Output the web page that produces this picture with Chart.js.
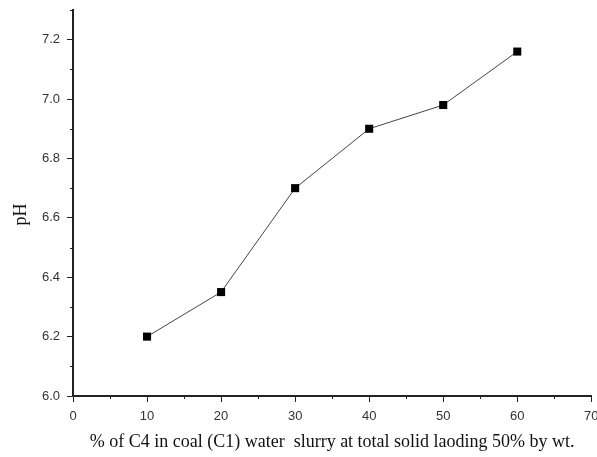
<!DOCTYPE html>
<html>
<head>
<meta charset="utf-8">
<script src="https://cdn.jsdelivr.net/npm/chart.js@4/dist/chart.umd.min.js"></script>
<style>
  html, body { margin: 0; padding: 0; background: #fff; }
  #wrap { width: 597px; height: 457px; position: relative; }
</style>
</head>
<body>
<div id="wrap"><canvas id="chart"></canvas></div>
<script>
// ── Data ──────────────────────────────────────────────────────────────────────
const c4Percent = [10, 20, 30, 40, 50, 60];
const phValues  = [6.20, 6.35, 6.70, 6.90, 6.98, 7.16];

const xMajorTicks = [0, 10, 20, 30, 40, 50, 60, 70];
const xMinorTicks = [5, 15, 25, 35, 45, 55, 65];
const yMajorTicks = [6.0, 6.2, 6.4, 6.6, 6.8, 7.0, 7.2];
const yMinorTicks = [6.1, 6.3, 6.5, 6.7, 6.9, 7.1, 7.3];

const xTitle = '% of C4 in coal (C1) water  slurry at total solid laoding 50% by wt.';
const yTitle = 'pH';

// ── Style ─────────────────────────────────────────────────────────────────────
const AXIS_COLOR  = '#222';
const LABEL_COLOR = '#333';
const MAJOR_LEN   = 6;
const MINOR_LEN   = 3;
const tickFont  = { family: '"Liberation Sans", Arial, sans-serif', size: 13 };
const titleFont = { family: '"Liberation Serif", "Times New Roman", serif', size: 18 };

// short outward ticks between the labelled ones, plus the y title
// (sits a bit below the middle of the axis, so drawn by hand)
const axisExtras = {
  id: 'axisExtras',
  afterDraw(chart) {
    const { ctx, chartArea, scales: { x, y } } = chart;
    ctx.save();
    ctx.strokeStyle = AXIS_COLOR;
    ctx.lineWidth = 1;
    ctx.beginPath();
    xMinorTicks.forEach(v => {
      const px = Math.round(x.getPixelForValue(v)) + 0.5;
      ctx.moveTo(px, chartArea.bottom);
      ctx.lineTo(px, chartArea.bottom + MINOR_LEN);
    });
    yMinorTicks.forEach(v => {
      const py = Math.round(y.getPixelForValue(v)) + 0.5;
      ctx.moveTo(chartArea.left, py);
      ctx.lineTo(chartArea.left - MINOR_LEN, py);
    });
    ctx.stroke();

    const midY = chartArea.top + (chartArea.bottom - chartArea.top) * 0.53;
    ctx.translate(21, midY);
    ctx.rotate(-Math.PI / 2);
    ctx.font = `${titleFont.size}px ${titleFont.family}`;
    ctx.fillStyle = '#111';
    ctx.textAlign = 'center';
    ctx.textBaseline = 'middle';
    ctx.fillText(yTitle, 0, 0);
    ctx.restore();
  }
};

const fixedTicks = list => scale => { scale.ticks = list.map(v => ({ value: v })); };

new Chart(document.getElementById('chart'), {
  type: 'line',
  data: {
    labels: c4Percent,
    datasets: [{
      data: c4Percent.map((x, i) => ({ x, y: phValues[i] })),
      borderColor: '#444',
      borderWidth: 1,
      pointStyle: 'rect',
      pointRadius: 5.7,
      pointHoverRadius: 5.7,
      pointBackgroundColor: '#000',
      pointBorderColor: '#000',
      pointBorderWidth: 0,
      tension: 0,
      clip: false,
    }]
  },
  options: {
    responsive: true,
    maintainAspectRatio: false,
    animation: false,
    events: [],
    layout: { padding: { left: 0, top: 10, right: 5, bottom: 0 } },
    plugins: { legend: { display: false }, tooltip: { enabled: false } },
    scales: {
      x: {
        type: 'linear',
        min: 0, max: 70,
        afterBuildTicks: fixedTicks(xMajorTicks),
        afterFit(scale) { scale.height = 61; scale.paddingLeft = 0; scale.paddingRight = 0; },
        grid: { drawOnChartArea: false, drawTicks: true, tickLength: MAJOR_LEN, tickColor: AXIS_COLOR, tickWidth: 1 },
        border: { display: true, color: AXIS_COLOR, width: 2 },
        ticks: { font: tickFont, color: LABEL_COLOR, padding: 7, maxRotation: 0, autoSkip: false,
                 callback: v => String(v) },
        title: { display: true, text: xTitle, font: titleFont, color: '#111', padding: { top: 0, bottom: 4 } },
      },
      y: {
        type: 'linear',
        min: 6.0, max: 7.3,
        afterBuildTicks: fixedTicks(yMajorTicks),
        afterFit(scale) { scale.width = 73; scale.paddingTop = 0; scale.paddingBottom = 0; },
        grid: { drawOnChartArea: false, drawTicks: true, tickLength: MAJOR_LEN, tickColor: AXIS_COLOR, tickWidth: 1 },
        border: { display: true, color: AXIS_COLOR, width: 2 },
        ticks: { font: tickFont, color: LABEL_COLOR, padding: 7, autoSkip: false,
                 callback: v => Number(v).toFixed(1) },
        title: { display: false },
      }
    }
  },
  plugins: [axisExtras]
});
</script>
</body>
</html>
